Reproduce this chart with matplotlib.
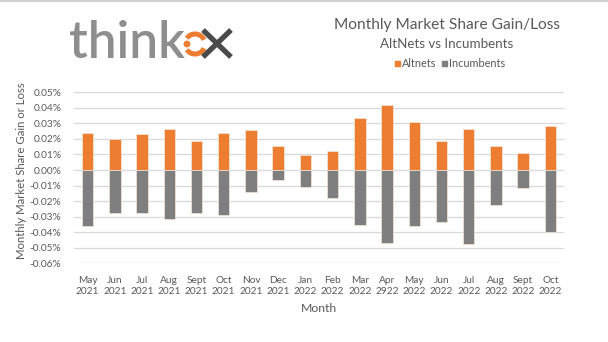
import matplotlib.pyplot as plt
from matplotlib.patches import Arc, Circle
import numpy as np

months = ['May\n2021', 'Jun\n2021', 'Jul\n2021', 'Aug\n2021', 'Sept\n2021', 'Oct\n2021',
          'Nov\n2021', 'Dec\n2021', 'Jan\n2022', 'Feb\n2022', 'Mar\n2022', 'Apr\n2922',
          'May\n2022', 'Jun\n2022', 'Jul\n2022', 'Aug\n2022', 'Sept\n2022', 'Oct\n2022']
# monthly share change, in percent
altnets = [0.0240, 0.0199, 0.0229, 0.0266, 0.0184, 0.0240, 0.0255, 0.0156, 0.0094,
           0.0122, 0.0336, 0.0416, 0.0310, 0.0184, 0.0266, 0.0156, 0.0109, 0.0283]
incumbents = [-0.0358, -0.0279, -0.0277, -0.0315, -0.0274, -0.0290, -0.0144, -0.0066, -0.0112,
              -0.0178, -0.0356, -0.0472, -0.0358, -0.0334, -0.0474, -0.0223, -0.0116, -0.0401]
y_ticks = [0.05, 0.04, 0.03, 0.02, 0.01, 0.0, -0.01, -0.02, -0.03, -0.04, -0.05, -0.06]

orange = '#ED7D31'
grey = '#7F7F7F'
txt = '#595959'

plt.rcParams['font.family'] = ['Lato', 'DejaVu Sans']

fig = plt.figure(figsize=(6.08, 3.42), dpi=100)
ax = fig.add_axes([74/608, 1-263.3/342, 490/608, (263.3-92.3)/342])

x = np.arange(len(months))
ax.bar(x, altnets, width=0.42, color=orange, edgecolor='#F4E9DC', linewidth=0.5, zorder=3)
ax.bar(x, incumbents, width=0.42, color=grey, edgecolor='#F4E9DC', linewidth=0.5, zorder=3)

ax.set_xlim(-0.5, len(months) - 0.5)
ax.set_ylim(-0.06, 0.05)
ax.set_yticks(y_ticks)
ax.set_yticklabels(['%.2f%%' % v for v in y_ticks])
ax.set_xticks(x)
ax.set_xticklabels(months, linespacing=1.35, fontsize=7.8)
ax.grid(axis='y', color='#D9D9D9', linewidth=0.9, zorder=0)
for s in ax.spines.values():
    s.set_visible(False)
ax.tick_params(length=0, colors=txt, labelsize=7.3)
ax.tick_params(axis='y', pad=9)
ax.tick_params(axis='x', pad=9)
ax.set_xlabel('Month', color=txt, fontsize=8.8, labelpad=5)
ax.set_ylabel('Monthly Market Share Gain or Loss', color=txt, fontsize=8.2)
ax.yaxis.set_label_coords(-0.095, 0.54)

# titles and legend
fig.text(447/608, 1-25/342, 'Monthly Market Share Gain/Loss', ha='center', va='center',
         fontsize=11.2, color=txt)
fig.text(447/608, 1-44/342, 'AltNets vs Incumbents', ha='center', va='center',
         fontsize=9.6, color=txt)
fig.patches.append(plt.Rectangle((395/608, 1-66/342), 5/608, 5/342, color=orange,
                                 transform=fig.transFigure, figure=fig))
fig.text(402/608, 1-63.5/342, 'Altnets', ha='left', va='center', fontsize=7.8, color=txt)
fig.patches.append(plt.Rectangle((442/608, 1-66/342), 5/608, 5/342, color=grey,
                                 transform=fig.transFigure, figure=fig))
fig.text(449/608, 1-63.5/342, 'Incumbents', ha='left', va='center', fontsize=7.8, color=txt)

# logo drawn in pixel coordinates
lg = fig.add_axes([0, 0, 1, 1], zorder=-1)
lg.set_xlim(0, 608)
lg.set_ylim(342, 0)
lg.axis('off')
lg.axhline(0.8, color='#D0D0D0', linewidth=1.5)
lg.text(69, 58, 'think', ha='left', va='baseline', fontsize=37, fontweight='semibold',
        color='#8E8E8E')
lg.add_patch(Arc((195, 44), 20, 20, theta1=25, theta2=145, color=orange, linewidth=3.6))
lg.add_patch(Arc((195, 44), 20, 20, theta1=215, theta2=335, color=orange, linewidth=3.6))
lg.add_patch(Circle((187, 44), 2.7, color=orange))
lg.plot([203, 231], [30, 57], color='#4A4A4A', linewidth=3.8, solid_capstyle='butt')
lg.plot([203, 231], [57, 30], color='#4A4A4A', linewidth=3.8, solid_capstyle='butt')

fig.savefig('out.png', dpi=100)
